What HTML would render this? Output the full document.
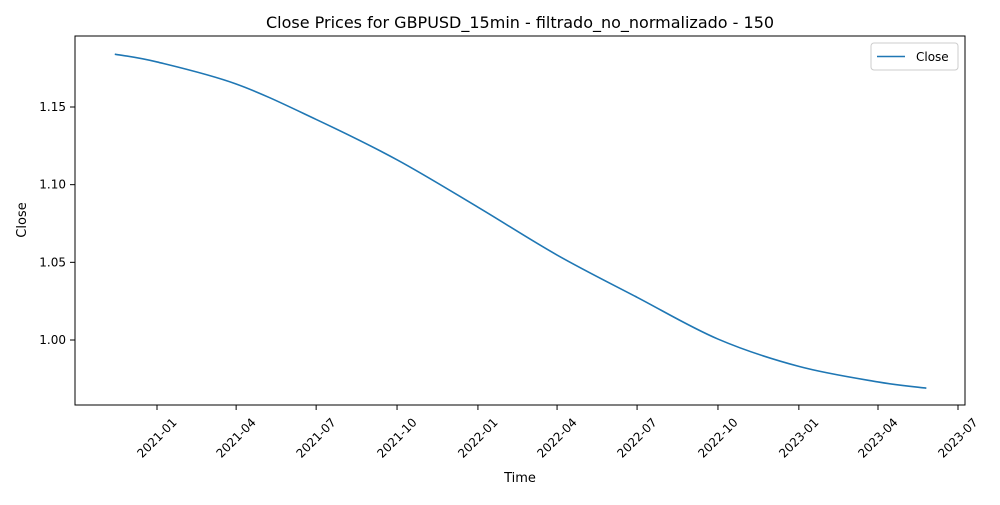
<!DOCTYPE html>
<html><head><meta charset="utf-8"><style>
body{margin:0;background:#fff;font-family:"Liberation Sans","DejaVu Sans",sans-serif;}
svg text{font-family:"DejaVu Sans","Liberation Sans",sans-serif;fill:#000;}
</style></head><body>
<svg id="chart" width="1000" height="500">
<text x="520" y="28" font-size="16" text-anchor="middle">Close Prices for GBPUSD_15min - filtrado_no_normalizado - 150</text>
<rect x="75" y="36" width="890" height="369" fill="none" stroke="#000" stroke-width="1"/>
<g id="yticks"></g>
<g id="xticks"></g>
<text x="520" y="482" font-size="13" text-anchor="middle">Time</text>
<text x="26" y="220" font-size="13" text-anchor="middle" transform="rotate(-90 26 220)">Close</text>
<path id="line" fill="none" stroke="#1f77b4" stroke-width="1.6"/>
<g>
<rect x="871" y="43" width="87" height="27" fill="#fff" stroke="#ccc" rx="3"/>
<line x1="877" y1="56.5" x2="905" y2="56.5" stroke="#1f77b4" stroke-width="1.6"/>
<text x="916" y="61" font-size="12">Close</text>
</g>
</svg>
<script>
const dates=["2020-11-14","2021-01-01","2021-04-01","2021-07-01","2021-10-01","2022-01-01","2022-04-01","2022-07-01","2022-10-01","2023-01-01","2023-04-01","2023-05-26"];
const closes=[1.184,1.179,1.1648,1.142,1.116,1.0855,1.0547,1.0275,1.0006,0.983,0.973,0.969];
const yTicks=[1.00,1.05,1.10,1.15];
const xTicks=["2021-01","2021-04","2021-07","2021-10","2022-01","2022-04","2022-07","2022-10","2023-01","2023-04","2023-07"];
const ns="http://www.w3.org/2000/svg";
const t0=Date.parse("2021-01-01"),t1=Date.parse("2023-07-01");
function xs(d){return 157+(Date.parse(d)-t0)/(t1-t0)*801;}
function ys(v){return 340-(v-1.0)*(233/0.15);}
const yg=document.getElementById("yticks");
yTicks.forEach(v=>{
 const l=document.createElementNS(ns,"line");
 
 
 l.setAttribute("x1",70);l.setAttribute("x2",75);l.setAttribute("y1",ys(v));l.setAttribute("y2",ys(v));l.setAttribute("stroke","#000");
 yg.appendChild(l);
 const t=document.createElementNS(ns,"text");
 
 
 t.setAttribute("x",66);t.setAttribute("y",ys(v)+4);t.setAttribute("font-size","12");t.setAttribute("text-anchor","end");
 t.textContent=v.toFixed(2);yg.appendChild(t);
});
const xg=document.getElementById("xticks");
xTicks.forEach(s=>{
 const x=xs(s+"-01");
 const l=document.createElementNS(ns,"line");
 
 
 l.setAttribute("x1",x);l.setAttribute("x2",x);l.setAttribute("y1",405);l.setAttribute("y2",410);l.setAttribute("stroke","#000");
 xg.appendChild(l);
 const t=document.createElementNS(ns,"text");
 
 
 t.setAttribute("x",x);t.setAttribute("y",442);t.setAttribute("font-size","12");t.setAttribute("text-anchor","middle");
 t.setAttribute("transform","rotate(-45 "+x+" 438)");
 t.textContent=s;xg.appendChild(t);
});
const P=dates.map((d,i)=>[xs(d),ys(closes[i])]);
let d="M"+P[0][0]+","+P[0][1];
for(let i=0;i<P.length-1;i++){
 const p0=P[Math.max(0,i-1)],p1=P[i],p2=P[i+1],p3=P[Math.min(P.length-1,i+2)];
 d+=" C"+(p1[0]+(p2[0]-p0[0])/6)+","+(p1[1]+(p2[1]-p0[1])/6)+" "+(p2[0]-(p3[0]-p1[0])/6)+","+(p2[1]-(p3[1]-p1[1])/6)+" "+p2[0]+","+p2[1];
}
document.getElementById("line").setAttribute("d",d);
</script>
</body></html>
